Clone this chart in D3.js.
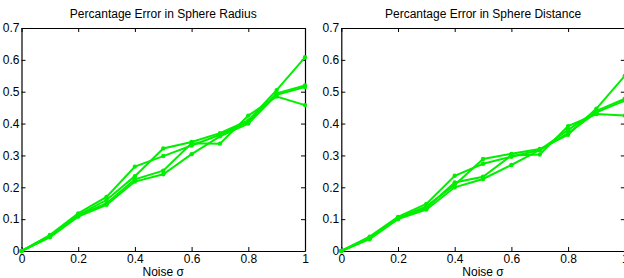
<!DOCTYPE html>
<html>
<head>
<meta charset="utf-8">
<script src="https://cdn.jsdelivr.net/npm/d3@7"></script>
<style>
  body { margin: 0; background: #fff; }
  svg { display: block; font-family: "Liberation Sans", Arial, sans-serif; }
  .axis text { font-size: 12px; fill: #000; }
  .axis path, .axis line { stroke: #000; }
</style>
</head>
<body>
<div id="chart"></div>
<script>
// noise levels on the x axis
var noise = [0, 0.1, 0.2, 0.3, 0.4, 0.5, 0.6, 0.7, 0.8, 0.9, 1.0];
var xTicks = [0, 0.2, 0.4, 0.6, 0.8, 1];
var yTicks = [0, 0.1, 0.2, 0.3, 0.4, 0.5, 0.6, 0.7];

// left panel: error in sphere radius, one array per run
var radiusRun1 = [0, 0.050, 0.118, 0.170, 0.265, 0.298, 0.331, 0.365, 0.405, 0.495, 0.520];
var radiusRun2 = [0, 0.045, 0.113, 0.160, 0.235, 0.322, 0.342, 0.370, 0.410, 0.505, 0.608];
var radiusRun3 = [0, 0.048, 0.110, 0.150, 0.225, 0.252, 0.338, 0.337, 0.425, 0.485, 0.458];
var radiusRun4 = [0, 0.043, 0.108, 0.145, 0.218, 0.241, 0.304, 0.360, 0.400, 0.490, 0.515];

// right panel: error in sphere distance
var distRun1 = [0, 0.045, 0.107, 0.148, 0.236, 0.274, 0.296, 0.317, 0.370, 0.435, 0.472];
var distRun2 = [0, 0.040, 0.104, 0.140, 0.207, 0.289, 0.305, 0.320, 0.365, 0.447, 0.550];
var distRun3 = [0, 0.043, 0.102, 0.135, 0.215, 0.233, 0.300, 0.303, 0.392, 0.430, 0.425];
var distRun4 = [0, 0.037, 0.100, 0.130, 0.200, 0.226, 0.270, 0.317, 0.380, 0.440, 0.478];

var panels = [
  {title: 'Percantage Error in Sphere Radius', left: 21.5, runs: [radiusRun1, radiusRun2, radiusRun3, radiusRun4]},
  {title: 'Percantage Error in Sphere Distance', left: 341.3, runs: [distRun1, distRun2, distRun3, distRun4]}
];

var W = 624, H = 278;
var plotW = 283.5, plotTop = 28, plotBottom = 251;

var svg = d3.select('#chart').append('svg')
    .attr('width', W)
    .attr('height', H);

panels.forEach(function(p) {
  var x = d3.scaleLinear().domain([0, 1]).range([p.left, p.left + plotW]);
  var y = d3.scaleLinear().domain([0, 0.7]).range([plotBottom, plotTop]);
  var g = svg.append('g');

  // title
  g.append('text')
   .attr('x', p.left + plotW / 2)
   .attr('y', 18)
   .attr('text-anchor', 'middle')
   .style('font-size', '12px')
   .text(p.title);

  // axes, ticks pointing inward like matlab
  g.append('g').attr('class', 'axis')
   .attr('transform', 'translate(0,' + plotBottom + ')')
   .call(d3.axisBottom(x).tickValues(xTicks).tickFormat(d3.format('~g'))
         .tickSizeInner(-4).tickSizeOuter(0).tickPadding(3));
  g.append('g').attr('class', 'axis')
   .attr('transform', 'translate(0,' + plotTop + ')')
   .call(d3.axisTop(x).tickValues(xTicks).tickFormat('')
         .tickSizeInner(-4).tickSizeOuter(0));
  g.append('g').attr('class', 'axis')
   .attr('transform', 'translate(' + p.left + ',0)')
   .call(d3.axisLeft(y).tickValues(yTicks).tickFormat(d3.format('~g'))
         .tickSizeInner(-4).tickSizeOuter(0).tickPadding(2));
  g.append('g').attr('class', 'axis')
   .attr('transform', 'translate(' + (p.left + plotW) + ',0)')
   .call(d3.axisRight(y).tickValues(yTicks).tickFormat('')
         .tickSizeInner(-4).tickSizeOuter(0));

  g.selectAll('.axis .domain').attr('stroke-width', 1.2);

  // x label
  g.append('text')
   .attr('x', p.left + plotW / 2)
   .attr('y', 276)
   .attr('text-anchor', 'middle')
   .style('font-size', '12px')
   .text('Noise σ');

  var line = d3.line()
      .x(function(d, i) { return x(noise[i]); })
      .y(function(d) { return y(d); });

  p.runs.forEach(function(run) {
    g.append('path')
     .datum(run)
     .attr('d', line)
     .attr('fill', 'none')
     .attr('stroke', '#00ee00')
     .attr('stroke-width', 2);

    g.selectAll(null)
     .data(run)
     .enter()
     .append('circle')
     .attr('cx', function(d, i) { return x(noise[i]); })
     .attr('cy', function(d) { return y(d); })
     .attr('r', 2.2)
     .attr('fill', '#00ee00');
  });
});
</script>
</body>
</html>
